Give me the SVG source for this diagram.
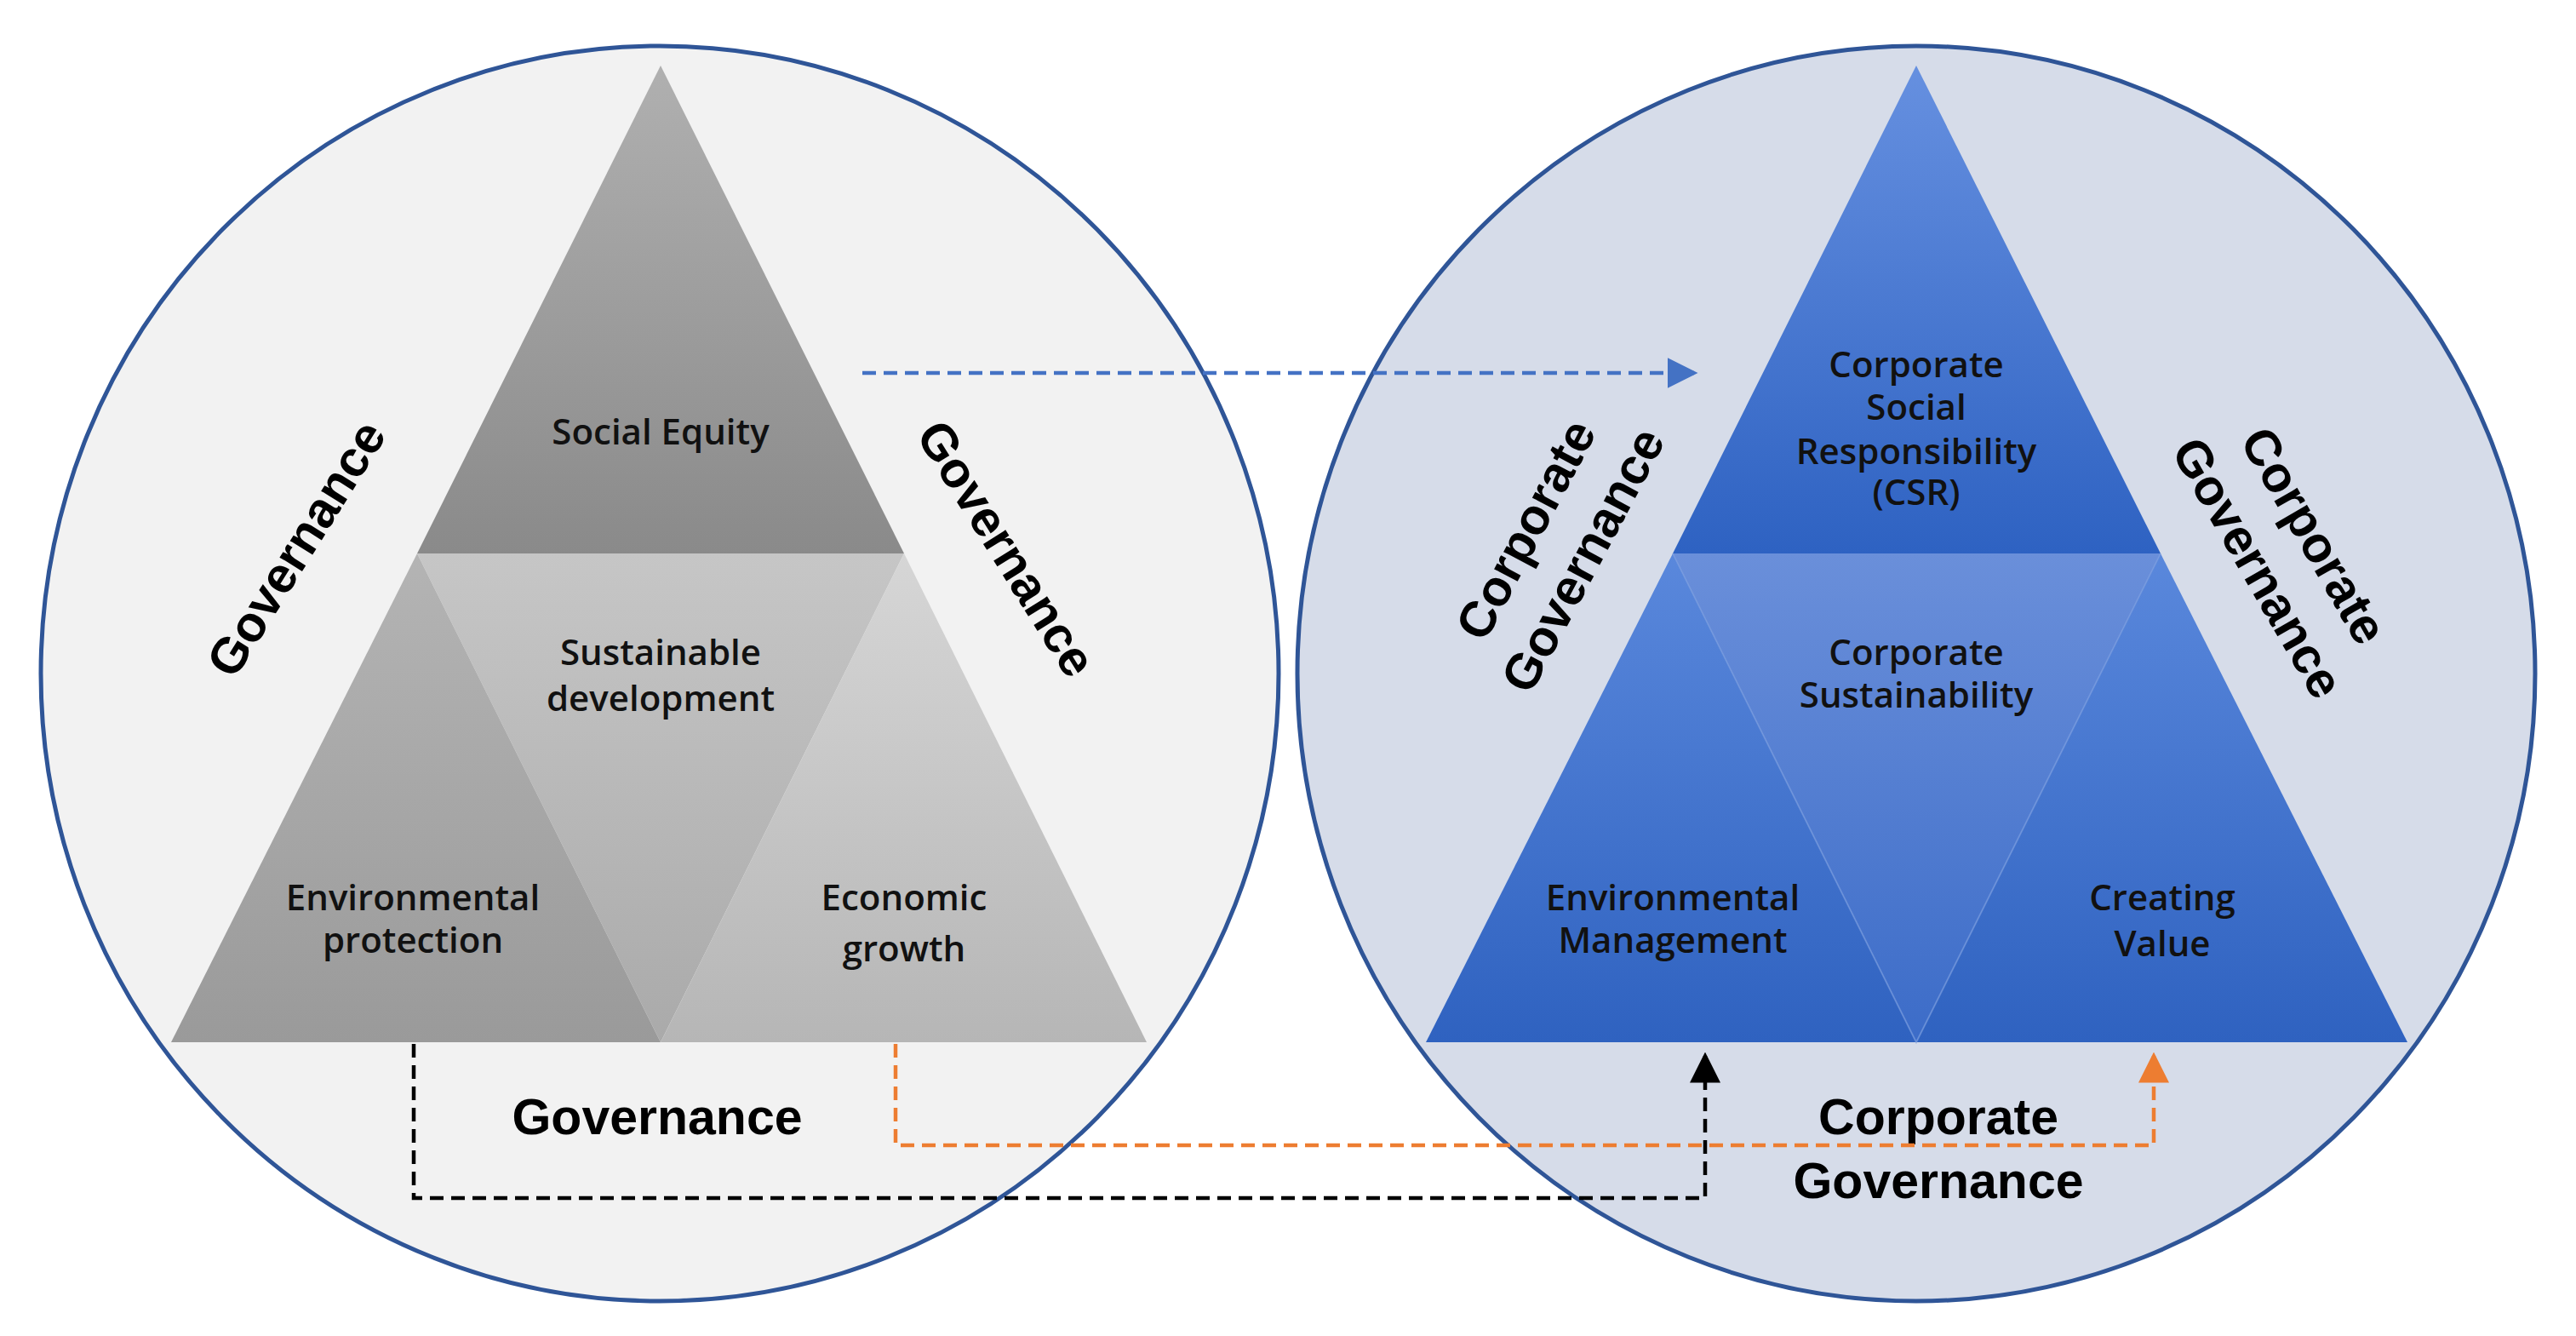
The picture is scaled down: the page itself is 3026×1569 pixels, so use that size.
<svg xmlns="http://www.w3.org/2000/svg" width="3026" height="1569" viewBox="0 0 3026 1569">
<defs>
<style>
.lbl{font-family:"Open Sans","Noto Sans",sans-serif;font-size:42px;fill:#111;text-anchor:middle;font-weight:600}
.gov{font-family:"Liberation Sans",Arial,sans-serif;font-size:59px;font-weight:bold;fill:#000;text-anchor:middle}
.circ{stroke:#2f5597;stroke-width:5}
.dash{fill:none;stroke-width:4.5;stroke-dasharray:16 9}
</style>
<linearGradient id="gTop" x1="0" y1="0" x2="0" y2="1"><stop offset="0" stop-color="#b0b0b0"/><stop offset="1" stop-color="#8a8a8a"/></linearGradient>
<linearGradient id="gLeft" x1="0" y1="0" x2="0" y2="1"><stop offset="0" stop-color="#b4b4b4"/><stop offset="1" stop-color="#9a9a9a"/></linearGradient>
<linearGradient id="gMid" x1="0" y1="0" x2="0" y2="1"><stop offset="0" stop-color="#c6c6c6"/><stop offset="1" stop-color="#aaaaaa"/></linearGradient>
<linearGradient id="gRight" x1="0" y1="0" x2="0" y2="1"><stop offset="0" stop-color="#d6d6d6"/><stop offset="1" stop-color="#b6b6b6"/></linearGradient>
<linearGradient id="bTop" x1="0" y1="0" x2="0" y2="1"><stop offset="0" stop-color="#6690e0"/><stop offset="1" stop-color="#2e62c2"/></linearGradient>
<linearGradient id="bMid" x1="0" y1="0" x2="0" y2="1"><stop offset="0" stop-color="#6a8fda"/><stop offset="1" stop-color="#3c6cc8"/></linearGradient>
<linearGradient id="bSide" x1="0" y1="0" x2="0" y2="1"><stop offset="0" stop-color="#5a88dc"/><stop offset="1" stop-color="#2f62c0"/></linearGradient>
<marker id="aBlue" markerWidth="8" markerHeight="8" refX="7" refY="4" orient="auto" markerUnits="strokeWidth"><path d="M0,0 L8,4 L0,8 z" fill="#4472c4"/></marker>
<marker id="aBlack" markerWidth="8" markerHeight="8" refX="7" refY="4" orient="auto" markerUnits="strokeWidth"><path d="M0,0 L8,4 L0,8 z" fill="#000"/></marker>
<marker id="aOrange" markerWidth="8" markerHeight="8" refX="7" refY="4" orient="auto" markerUnits="strokeWidth"><path d="M0,0 L8,4 L0,8 z" fill="#ed7d31"/></marker>
</defs>
<rect width="3026" height="1569" fill="#fff"/>
<g id="left-circle"><ellipse class="circ" cx="775" cy="791" rx="727" ry="737" fill="#f2f2f2"/></g>
<g id="right-circle"><ellipse class="circ" cx="2251" cy="791" rx="727" ry="737" fill="#d6dce9"/></g>

<g id="left-pyramid">
<g id="social-equity"><polygon points="776,77 1062,650 490,650" fill="url(#gTop)"/><text class="lbl" x="776" y="522" font-size="46">Social Equity</text></g>
<g id="sustainable-development"><polygon points="490,650 1062,650 776,1224" fill="url(#gMid)"/><text class="lbl" x="776" y="781">Sustainable</text><text class="lbl" x="776" y="835">development</text></g>
<g id="environmental-protection"><polygon points="490,650 776,1224 201,1224" fill="url(#gLeft)"/><text class="lbl" x="485" y="1069" font-size="39">Environmental</text><text class="lbl" x="485" y="1119" font-size="39">protection</text></g>
<g id="economic-growth"><polygon points="1062,650 1347,1224 776,1224" fill="url(#gRight)"/><text class="lbl" x="1062" y="1069" font-size="47">Economic</text><text class="lbl" x="1062" y="1129" font-size="47">growth</text></g>
</g>

<g id="right-pyramid">
<g id="csr"><polygon points="2251,77 2538,650 1965,650" fill="url(#bTop)"/>
<text class="lbl" x="2251" y="443" font-size="39">Corporate</text><text class="lbl" x="2251" y="493" font-size="39">Social</text><text class="lbl" x="2251" y="545" font-size="39">Responsibility</text><text class="lbl" x="2251" y="593" font-size="39">(CSR)</text></g>
<g id="corporate-sustainability"><polygon points="1965,650 2538,650 2251,1224" fill="url(#bMid)"/><text class="lbl" x="2251" y="781" font-size="39">Corporate</text><text class="lbl" x="2251" y="831" font-size="39">Sustainability</text></g>
<g id="environmental-management"><polygon points="1965,650 2251,1224 1675,1224" fill="url(#bSide)"/><text class="lbl" x="1965" y="1069" font-size="39">Environmental</text><text class="lbl" x="1965" y="1119" font-size="39">Management</text></g>
<g id="creating-value"><polygon points="2538,650 2828,1224 2251,1224" fill="url(#bSide)"/><text class="lbl" x="2540" y="1069">Creating</text><text class="lbl" x="2540" y="1123">Value</text></g>
<polyline points="1965,650 2251,1224 2538,650" fill="none" stroke="#7a9de0" stroke-width="2" opacity="0.6"/>
</g>

<g id="gov-labels">
<text class="gov" transform="translate(365,655) rotate(-58)">Governance</text>
<text class="gov" transform="translate(1165,655) rotate(58)">Governance</text>
<text class="gov" x="772" y="1332">Governance</text>
<text class="gov" transform="translate(1826,640) rotate(-62)"><tspan x="0" y="-18">Corporate</tspan><tspan x="0" y="58">Governance</tspan></text>
<text class="gov" transform="translate(2685,648) rotate(60)"><tspan x="0" y="-18">Corporate</tspan><tspan x="0" y="58">Governance</tspan></text>
<text class="gov" x="2277" y="1332">Corporate</text>
<text class="gov" x="2277" y="1407">Governance</text>
</g>

<g id="connectors">
<path class="dash" stroke="#4472c4" d="M1013,438 H1990" marker-end="url(#aBlue)"/>
<path class="dash" stroke="#000" d="M486,1226 V1407 H2003 V1240" marker-end="url(#aBlack)"/>
<path class="dash" stroke="#ed7d31" d="M1052,1226 V1345 H2530 V1240" marker-end="url(#aOrange)"/>
</g>
</svg>
